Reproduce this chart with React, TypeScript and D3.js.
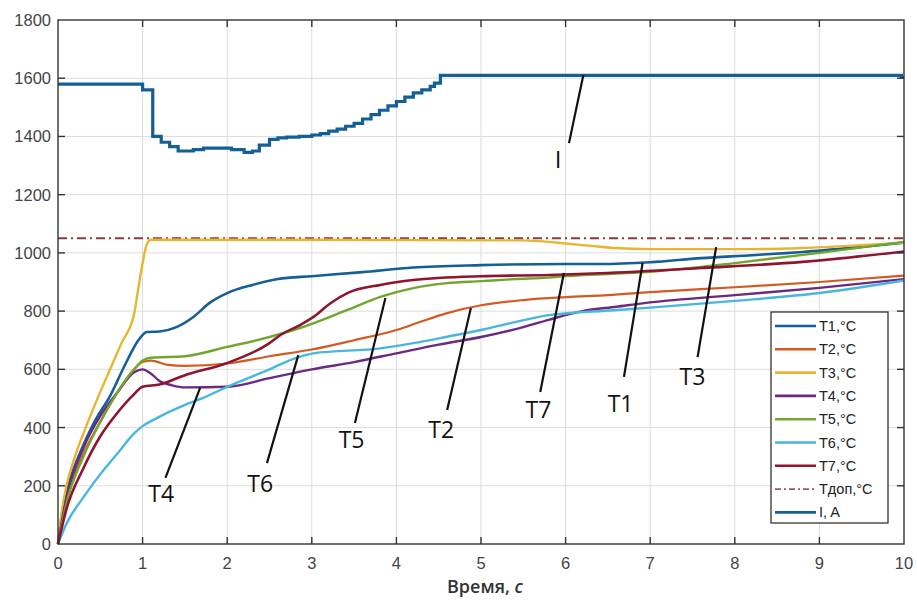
import React, { useRef, useEffect } from "react";
import * as d3 from "d3";

// time points (s) and temperatures (°C)
const t1Time = [0, 0.05, 0.1, 0.2, 0.3, 0.45, 0.6, 0.8, 0.95, 1.05, 1.2, 1.4, 1.6, 1.8, 2.0, 2.3, 2.6, 3.0, 3.6, 4.2, 5.0, 6.0, 6.4, 7.0, 7.6, 8.2, 8.8, 9.4, 10];
const t1Vals = [0, 110, 180, 270, 340, 430, 500, 620, 700, 728, 730, 745, 780, 830, 862, 890, 910, 920, 934, 950, 958, 962, 962, 968, 982, 992, 1003, 1018, 1035];

const t2Time = [0, 0.1, 0.3, 0.5, 0.7, 0.9, 1.0, 1.1, 1.3, 1.5, 2.0, 2.5, 3.0, 3.5, 4.0, 4.3, 4.6, 5.0, 5.5, 6.0, 6.5, 7.0, 8.0, 9.0, 10];
const t2Vals = [0, 150, 310, 420, 520, 600, 625, 630, 615, 612, 620, 645, 668, 700, 735, 765, 793, 820, 838, 848, 855, 865, 882, 900, 922];

const t3Time = [0, 0.05, 0.1, 0.2, 0.3, 0.46, 0.6, 0.75, 0.9, 0.95, 1.0, 1.05, 1.1, 3.0, 5.5, 5.94, 6.3, 6.57, 7.0, 8.2, 8.8, 9.4, 10];
const t3Vals = [0, 120, 200, 300, 380, 495, 590, 690, 790, 880, 965, 1030, 1045, 1045, 1043, 1034, 1024, 1017, 1013, 1013, 1017, 1025, 1035];

const t4Time = [0, 0.1, 0.3, 0.5, 0.7, 0.9, 1.0, 1.1, 1.2, 1.35, 1.5, 2.0, 2.5, 3.0, 3.5, 4.0, 4.5, 5.0, 5.5, 5.8, 6.2, 6.6, 7.0, 8.0, 9.0, 10];
const t4Vals = [0, 160, 330, 440, 520, 590, 600, 585, 560, 545, 538, 540, 570, 600, 625, 655, 685, 711, 745, 770, 800, 815, 830, 855, 880, 910];

const t5Time = [0, 0.1, 0.3, 0.5, 0.7, 0.9, 1.0, 1.1, 1.5, 2.0, 2.5, 2.86, 3.42, 3.81, 4.2, 4.6, 5.0, 5.4, 5.8, 6.0, 7.0, 8.0, 9.0, 10];
const t5Vals = [0, 140, 300, 420, 520, 600, 630, 640, 645, 677, 711, 742, 804, 849, 879, 896, 903, 910, 915, 920, 935, 965, 1000, 1038];

const t6Time = [0, 0.1, 0.3, 0.5, 0.7, 0.9, 1.0, 1.15, 1.5, 1.7, 2.0, 2.5, 2.8, 3.02, 3.81, 4.2, 4.6, 5.0, 5.4, 5.8, 6.57, 7.0, 8.0, 9.0, 10];
const t6Vals = [0, 70, 160, 240, 310, 380, 405, 430, 478, 500, 540, 600, 638, 655, 672, 690, 712, 735, 762, 786, 803, 812, 835, 862, 905];

const t7Time = [0, 0.1, 0.3, 0.5, 0.7, 0.9, 1.0, 1.2, 1.5, 2.0, 2.5, 2.63, 2.86, 3.02, 3.22, 3.42, 3.81, 4.2, 5.0, 5.8, 6.41, 7.6, 8.8, 10];
const t7Vals = [0, 120, 260, 370, 450, 515, 540, 548, 580, 622, 690, 718, 752, 780, 827, 862, 890, 907, 920, 924, 930, 948, 969, 1005];

const tDopTime = [0, 10];
const tDopVals = [1050, 1050];

// current, A (stepped)
const iTime = [0, 1.0, 1.12, 1.22, 1.32, 1.42, 1.6, 1.72, 2.05, 2.2, 2.3, 2.38, 2.5, 2.6, 2.7, 2.85, 3.0, 3.1, 3.2, 3.3, 3.4, 3.5, 3.6, 3.7, 3.8, 3.9, 4.0, 4.1, 4.2, 4.3, 4.4, 4.45, 4.52, 9.97, 10];
const iVals = [1580, 1560, 1400, 1380, 1365, 1350, 1355, 1360, 1355, 1345, 1350, 1370, 1390, 1395, 1398, 1400, 1405, 1410, 1418, 1425, 1435, 1445, 1460, 1475, 1490, 1505, 1520, 1535, 1550, 1560, 1572, 1583, 1610, 1603, 1603];

const xTicks = [0, 1, 2, 3, 4, 5, 6, 7, 8, 9, 10];
const yTicks = [0, 200, 400, 600, 800, 1000, 1200, 1400, 1600, 1800];

const legendNames = ["T1,°C", "T2,°C", "T3,°C", "T4,°C", "T5,°C", "T6,°C", "T7,°C", "Tдоп,°C", "I, A"];

// callout labels: [name, labelT, labelV, lineT0, lineV0, lineT1, lineV1]
const callouts: [string, number, number, number, number, number, number][] = [
  ["I", 5.91, 1292, 6.04, 1377, 6.21, 1611],
  ["T4", 1.22, 144, 1.27, 227, 1.68, 536],
  ["T6", 2.39, 179, 2.47, 278, 2.84, 649],
  ["T5", 3.47, 330, 3.51, 416, 3.87, 845],
  ["T2", 4.53, 364, 4.6, 460, 4.88, 811],
  ["T7", 5.68, 433, 5.7, 522, 5.98, 931],
  ["T1", 6.65, 453, 6.69, 574, 6.91, 965],
  ["T3", 7.5, 546, 7.56, 642, 7.78, 1020],
];

const App = () => {
  const svgRef = useRef(null);

  useEffect(() => {
    const width = 917, height = 604;
    const left = 58, right = 904, top = 20, bottom = 544;
    const svg = d3.select(svgRef.current).attr("width", width).attr("height", height);
    svg.selectAll("*").remove();

    const x = d3.scaleLinear().domain([0, 10]).range([left, right]);
    const y = d3.scaleLinear().domain([0, 1800]).range([bottom, top]);

    // grid
    const grid = svg.append("g").attr("stroke", "#dcdcdc").attr("stroke-width", 1);
    xTicks.slice(1, -1).forEach(t => {
      grid.append("line").attr("x1", x(t)).attr("x2", x(t)).attr("y1", top).attr("y2", bottom);
    });
    yTicks.slice(1, -1).forEach(v => {
      grid.append("line").attr("x1", left).attr("x2", right).attr("y1", y(v)).attr("y2", y(v));
    });

    const series = [
      { time: t1Time, vals: t1Vals, color: "#135f96", w: 2.6 },
      { time: t2Time, vals: t2Vals, color: "#d35a22", w: 2.2 },
      { time: t3Time, vals: t3Vals, color: "#e9b530", w: 2.4 },
      { time: t4Time, vals: t4Vals, color: "#6b2a80", w: 2.4 },
      { time: t5Time, vals: t5Vals, color: "#70a62e", w: 2.4 },
      { time: t6Time, vals: t6Vals, color: "#48b6e0", w: 2.4 },
      { time: t7Time, vals: t7Vals, color: "#8e1430", w: 2.6 },
    ];

    const line = d3.line().curve(d3.curveMonotoneX);
    const lines = svg.append("g").attr("fill", "none");

    // dash-dot limit
    lines.append("path")
      .attr("d", line(tDopTime.map((t, i) => [x(t), y(tDopVals[i])])))
      .attr("stroke", "#8d3a3f").attr("stroke-width", 2)
      .attr("stroke-dasharray", "9,4,2,4");

    series.forEach(s => {
      lines.append("path")
        .attr("d", line(s.time.map((t, i) => [x(t), y(s.vals[i])])))
        .attr("stroke", s.color).attr("stroke-width", s.w)
        .attr("stroke-linejoin", "round");
    });

    const stepLine = d3.line().curve(d3.curveStepAfter);
    lines.append("path")
      .attr("d", stepLine(iTime.map((t, i) => [x(t), y(iVals[i])])))
      .attr("stroke", "#135f96").attr("stroke-width", 3.2);

    // axes box and ticks
    const axis = svg.append("g").attr("stroke", "#333").attr("stroke-width", 1.4);
    axis.append("rect").attr("x", left).attr("y", top).attr("width", right - left).attr("height", bottom - top).attr("fill", "none");
    xTicks.slice(1, -1).forEach(t => {
      axis.append("line").attr("x1", x(t)).attr("x2", x(t)).attr("y1", bottom).attr("y2", bottom - 7);
      axis.append("line").attr("x1", x(t)).attr("x2", x(t)).attr("y1", top).attr("y2", top + 7);
    });
    yTicks.slice(1, -1).forEach(v => {
      axis.append("line").attr("x1", left).attr("x2", left + 7).attr("y1", y(v)).attr("y2", y(v));
      axis.append("line").attr("x1", right).attr("x2", right - 7).attr("y1", y(v)).attr("y2", y(v));
    });

    const labels = svg.append("g").attr("font-family", "'Liberation Sans', Arial, sans-serif").attr("font-size", 16.5).attr("fill", "#444");
    xTicks.forEach(t => {
      labels.append("text").attr("x", x(t)).attr("y", bottom + 25).attr("text-anchor", "middle").text(t);
    });
    yTicks.forEach(v => {
      labels.append("text").attr("x", left - 7).attr("y", y(v) + 6).attr("text-anchor", "end").text(v);
    });

    const xTitle = svg.append("text")
      .attr("x", 485).attr("y", 593).attr("text-anchor", "middle")
      .attr("font-family", "'Open Sans', sans-serif").attr("font-weight", 600).attr("font-size", 18).attr("fill", "#333");
    xTitle.append("tspan").text("Время, ");
    xTitle.append("tspan").attr("font-style", "italic").text("с");

    // callouts
    const ann = svg.append("g");
    callouts.forEach(([name, lt, lv, t0, v0, t1, v1]) => {
      ann.append("line").attr("x1", x(t0)).attr("y1", y(v0)).attr("x2", x(t1)).attr("y2", y(v1))
        .attr("stroke", "#111").attr("stroke-width", 2.2);
      ann.append("text").attr("x", x(lt)).attr("y", y(lv)).attr("text-anchor", "middle")
        .attr("font-family", "'Open Sans', sans-serif").attr("font-size", name === "I" ? 24 : 23).attr("fill", "#111")
        .text(name);
    });

    // legend
    const lg = svg.append("g");
    lg.append("rect").attr("x", 771).attr("y", 312).attr("width", 117).attr("height", 211)
      .attr("fill", "white").attr("stroke", "#222").attr("stroke-width", 1.2);
    const legendStyles = [
      ...series.map(s => ({ color: s.color, dash: null })),
      { color: "#9a5a62", dash: "6,3,2,3" },
      { color: "#135f96", dash: null },
    ];
    legendNames.forEach((name, i) => {
      const ly = 326 + i * 23.3;
      const l = lg.append("line").attr("x1", 775).attr("x2", 816).attr("y1", ly).attr("y2", ly)
        .attr("stroke", legendStyles[i].color).attr("stroke-width", 2.6);
      if (legendStyles[i].dash) l.attr("stroke-dasharray", legendStyles[i].dash).attr("stroke-width", 1.6);
      lg.append("text").attr("x", 819).attr("y", ly + 5).attr("font-family", "'Liberation Sans', Arial, sans-serif")
        .attr("font-size", 14.5).attr("fill", "#222").text(name);
    });
  }, []);

  return (
    <svg ref={svgRef} style={{ position: "absolute", left: 0, top: 0, background: "white" }}></svg>
  );
};

export default App;
